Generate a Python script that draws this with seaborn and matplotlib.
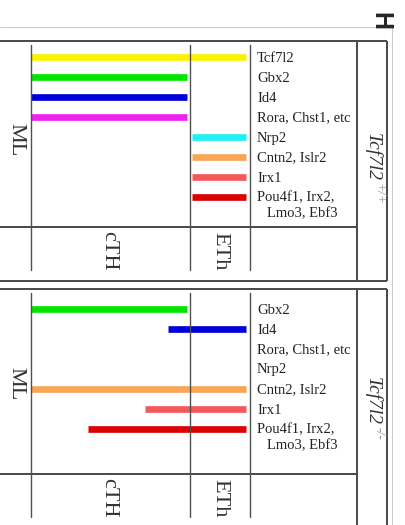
import pandas as pd
import seaborn as sns
import matplotlib.pyplot as plt
from matplotlib.lines import Line2D

# Expression domains along the thalamic axis (0 = ML, 100 = cTH/ETh border)
genes = ["Tcf7l2", "Gbx2", "Id4", "Rora", "Nrp2", "Cntn2", "Irx1", "Pou4f1"]
gene_colors = ["#f8f400", "#00e600", "#0000dc", "#f020f0",
               "#20f0f0", "#f8a555", "#f55858", "#dc0000"]
gene_labels = ["Tcf7l2", "Gbx2", "Id4", "Rora, Chst1, etc", "Nrp2",
               "Cntn2, Islr2", "Irx1", "Pou4f1, Irx2,"]
extra_label = "Lmo3, Ebf3"

wt_genes = genes
wt_start = [0, 0, 0, 0, 101, 101, 101, 101]
wt_end = [135.5, 98, 98, 98, 135.5, 135.5, 135.5, 135.5]

ko_genes = genes[1:]
ko_start = [0, 86, None, None, 0, 72, 36]
ko_end = [98, 135.5, None, None, 135.5, 135.5, 135.5]

regions = ["ML", "cTH", "ETh"]
region_lines = [0, 100, 137.7]
region_centers = [-9.7, 48.7, 118.9]

genotypes = ["Tcf7l2", "Tcf7l2"]
genotype_sup = ["+/+", "-/-"]

sns.set_style("white")
plt.rcParams["font.family"] = ["Liberation Serif", "DejaVu Serif"]

palette = dict(zip(genes, gene_colors))

fig = plt.figure(figsize=(4.05, 5.25), dpi=100)
W, H = 405, 525

XMIN, XMAX = -31 / 1.59, (W - 31) / 1.59
FRAME_R = (387 - 31) / 1.59
COL_L = (357 - 31) / 1.59
LABEL_X = (257 - 31) / 1.59
LABEL_X2 = (267 - 31) / 1.59
FRAME_C = "#484848"
LINE_C = "#505050"


def draw_panel(ax, names, start, end, ylim, sep, vspan, reg_y, ml_y,
               geno, sup, geno_y, sup_y):
    rows = []
    for i, (g, s, e) in enumerate(zip(names, start, end)):
        if s is None:
            continue
        rows.append({"gene": g, "pos": s, "row": i})
        rows.append({"gene": g, "pos": e, "row": i})
    df = pd.DataFrame(rows)
    sns.lineplot(data=df, x="pos", y="row", hue="gene", units="gene",
                 estimator=None, sort=False, palette=palette, lw=4.8,
                 legend=False, ax=ax, solid_capstyle="butt")
    ax.set_xlim(XMIN, XMAX)
    ax.set_ylim(*ylim)
    ax.axis("off")

    # gene labels
    for i, g in enumerate(names):
        lab = gene_labels[genes.index(g)]
        ax.text(LABEL_X, i + 0.05, lab, ha="left", va="center",
                fontsize=10.5, color="#222222")
        if g == "Pou4f1":
            ax.text(LABEL_X2, i + 0.85, extra_label, ha="left", va="center",
                    fontsize=10.5, color="#222222")

    # frame
    kw = dict(color=FRAME_C, lw=1.4, clip_on=False, solid_capstyle="butt")
    ax.plot([XMIN, FRAME_R], [ylim[1], ylim[1]], **kw)
    ax.plot([FRAME_R, FRAME_R], list(ylim), **kw)
    ax.plot([COL_L, COL_L], list(ylim), **kw)
    ax.plot([XMIN, COL_L], [sep, sep], **kw)

    # region borders
    for x in region_lines:
        ax.plot([x, x], vspan, color=LINE_C, lw=1.0, clip_on=False)

    for r, xc, yy in zip(regions, region_centers, [ml_y, reg_y, reg_y]):
        ax.text(xc, yy, r, rotation=-90, ha="center", va="center",
                fontsize=16, color="#333333")

    # genotype label
    gx = (368 - 31) / 1.59
    sx = (375 - 31) / 1.59
    ax.text(gx, geno_y, geno, rotation=-90, rotation_mode="anchor",
            ha="left", va="baseline", fontsize=14, style="italic",
            color="#333333")
    ax.text(sx, sup_y, sup, rotation=-90, rotation_mode="anchor",
            ha="left", va="baseline", fontsize=9.8, style="italic",
            color="#999999")


# top panel (wild type): pixels 41..281, rows at 57 + 20*i
ax1 = fig.add_axes([0, 1 - 281 / H, 1, (281 - 41) / H])
draw_panel(ax1, wt_genes, wt_start, wt_end, ylim=(11.2, -0.8), sep=8.5,
           vspan=[-0.6, 10.65], reg_y=9.7, ml_y=4.15,
           geno=genotypes[0], sup=genotype_sup[0], geno_y=3.8, sup_y=6.3)
ax1.plot([XMIN, FRAME_R], [11.2, 11.2], color=FRAME_C, lw=1.4,
         clip_on=False, solid_capstyle="butt")

# bottom panel (mutant): pixels 289..525, rows at 309 + 20*i
ax2 = fig.add_axes([0, 0, 1, (525 - 289) / H])
draw_panel(ax2, ko_genes, ko_start, ko_end, ylim=(10.8, -1.0), sep=8.25,
           vspan=[-0.8, 10.4], reg_y=9.45, ml_y=3.75,
           geno=genotypes[1], sup=genotype_sup[1], geno_y=3.4, sup_y=5.9)

# light outer border and panel letter
fig.add_artist(Line2D([0, 392 / W], [1 - 27 / H, 1 - 27 / H],
                      transform=fig.transFigure, color="#cccccc", lw=0.8))
fig.add_artist(Line2D([392 / W, 392 / W], [1 - 27 / H, 0],
                      transform=fig.transFigure, color="#cccccc", lw=0.8))
fig.text(380 / W, 1 - 21 / H, "H", rotation=-90, ha="center", va="center",
         fontsize=18, fontweight="bold", family="Liberation Sans")

fig.savefig("out.png", dpi=100)
